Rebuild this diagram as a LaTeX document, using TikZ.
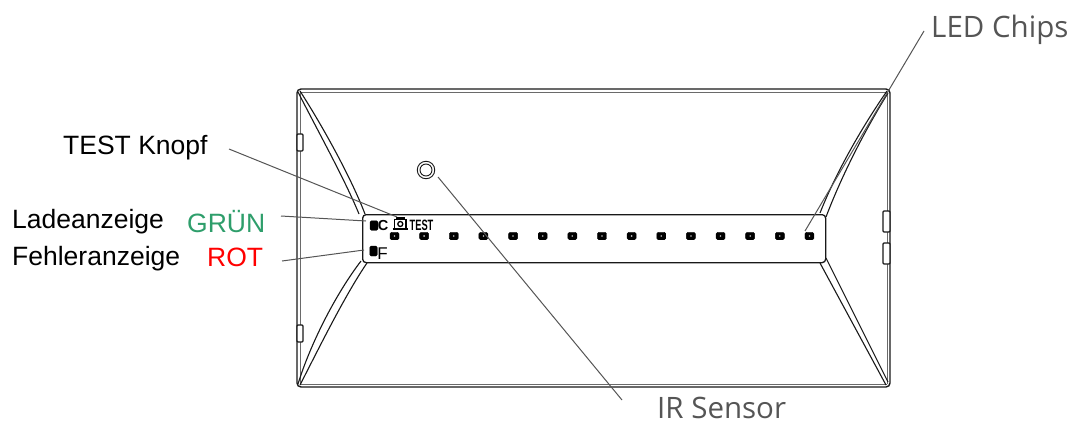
\documentclass[tikz,border=0pt]{standalone}
\usepackage{fontspec}
\setmainfont{Liberation Sans}
\newfontfamily\grayfont{Open Sans}
\definecolor{leadgray}{RGB}{85,85,85}
\definecolor{labelgreen}{RGB}{46,158,107}
\definecolor{inkblack}{RGB}{25,25,25}
\tikzset{
  body/.style={draw=inkblack,line width=1.1pt},
  thin body/.style={draw=inkblack!65,line width=1pt},
  leader/.style={draw=leadgray,line width=1pt},
  black label/.style={anchor=base west,inner sep=0pt,font=\fontsize{26.5}{26.5}\selectfont,text=black},
  gray label/.style={anchor=base west,inner sep=0pt,font=\grayfont\fontsize{29.5}{29.5}\selectfont,text=leadgray},
  led/.style={draw=black,fill=black,rounded corners=1.5pt,minimum width=9pt,minimum height=7.5pt,inner sep=0pt,line width=0.4pt},
  tiny bold/.style={inner sep=0pt,font=\bfseries\fontsize{14.5}{14.5}\selectfont}
}
\begin{document}
\begin{tikzpicture}[x=1pt,y=-1pt]
\useasboundingbox (0,0) rectangle (1077,426);
% housing
\draw[body,line width=1.4pt,rounded corners=4pt] (297,89) rectangle (890,387);
\draw[thin body] (301,92.5) -- (887,92.5);
\draw[thin body,line width=1.6pt] (301,384.5) -- (887,384.5);
\draw[thin body] (300.5,92) -- (300.5,384);
\draw[thin body,line width=1.6pt] (887.5,92) -- (887.5,384);
% tabs
\draw[body,line width=1.3pt,fill=white,rounded corners=1pt] (297,134) rectangle (303,151);
\draw[body,line width=1.3pt,fill=white,rounded corners=1pt] (297,325) rectangle (303,342);
\draw[body,line width=1.3pt,fill=white,rounded corners=1pt] (883,211) rectangle (890,232);
\draw[body,line width=1.3pt,fill=white,rounded corners=1pt] (883,243) rectangle (890,264);
% diagonals
\draw[body] (298,92) .. controls (320,135) and (345,180) .. (359,214);
\draw[body] (300,91) .. controls (325,130) and (352,180) .. (365,214);
\draw[body] (298,384) .. controls (310,345) and (335,295) .. (361,261);
\draw[body] (300,385) .. controls (318,350) and (345,295) .. (367,263);
\draw[body] (887,91) .. controls (860,130) and (835,175) .. (820,213);
\draw[body] (888,93) .. controls (862,135) and (840,180) .. (826,217);
\draw[body] (886,385) -- (820,263);
\draw[body] (888,382) -- (826,258);
% panel
\node[body,line width=1.3pt,rounded corners=3.5pt,minimum width=463pt,minimum height=48pt,inner sep=0pt,anchor=north west,fill=white] (panel) at (362,214) {};
% LEDs
\foreach \i in {0,...,14}{
  \pgfmathsetmacro{\xx}{394.5+\i*29.64}
  \node[led] (led\i) at (\xx,236) {};
  \fill[white!75!black] (\xx,236) circle (0.9pt);
}
% indicators
\node[led,minimum width=8pt,minimum height=9.5pt] (chg) at (374,225.5) {};
\node[led,minimum width=7.5pt,minimum height=10pt] (flt) at (373.5,251) {};
\node[tiny bold] (clab) at (383,225.5) {C};
\node[inner sep=0pt,font=\fontsize{17}{17}\selectfont] (flab) at (382.5,254) {F};
\node[inner sep=0pt,font=\bfseries\fontsize{15}{15}\selectfont,xscale=0.62] (testlab) at (421.5,225) {TEST};
% test button icon
\draw[black,line width=1.4pt] (394.5,219.5) rectangle (406,228.5);
\draw[black,line width=1.8pt] (392.5,229) -- (408,229);
\draw[black,line width=1.4pt] (396,218) -- (405,218);
\node[draw=black,circle,line width=1.3pt,minimum size=5pt,inner sep=0pt] (btn) at (400.3,224) {};
% IR sensor
\node[draw=inkblack,circle,line width=0.9pt,minimum size=17.5pt,inner sep=0pt] (irouter) at (426,170) {};
\node[draw=inkblack,circle,line width=0.9pt,minimum size=12pt,inner sep=0pt] (irinner) at (426,170) {};
% labels
\node[black label] (testknopf) at (63,154) {TEST Knopf};
\node[black label] (lade) at (12,228) {Ladeanzeige};
\node[black label,text=labelgreen] (gruen) at (187,232) {GRÜN};
\node[black label] (fehler) at (12,265) {Fehleranzeige};
\node[black label,text=red] (rot) at (207,266) {ROT};
\node[gray label] (ledchips) at (931,37) {LED Chips};
\node[gray label] (irsensor) at (657,418) {IR Sensor};
% leaders
\coordinate (a1) at (924,31); \coordinate (a2) at (805,231);
\coordinate (b1) at (229,149); \coordinate (b2) at (397,217);
\coordinate (c1) at (438,177); \coordinate (c2) at (622,400);
\coordinate (d1) at (281,216); \coordinate (d2) at (366,221);
\coordinate (e1) at (282,261); \coordinate (e2) at (364,250);
\draw[leader] (a1) -- (a2);
\draw[leader] (b1) -- (b2);
\draw[leader] (c1) -- (c2);
\draw[leader] (d1) -- (d2);
\draw[leader] (e1) -- (e2);
\end{tikzpicture}
\end{document}
